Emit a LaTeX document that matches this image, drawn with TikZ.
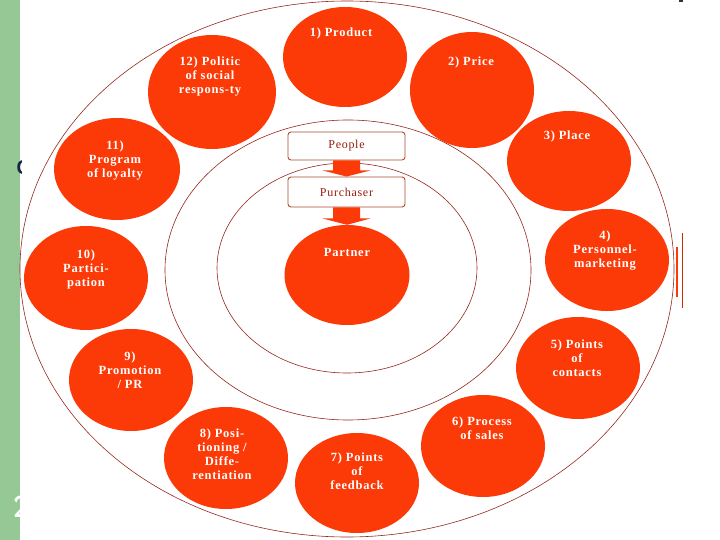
\documentclass[tikz,border=0pt]{standalone}
\usepackage{fontspec}
\setmainfont{Liberation Serif}
\newfontfamily\cfont[LetterSpace=6]{Liberation Serif}
\usetikzlibrary{shapes.geometric,calc}
\definecolor{ored}{RGB}{252,58,8}
\definecolor{ring}{RGB}{150,40,30}
\definecolor{boxline}{RGB}{175,75,45}
\definecolor{boxtext}{RGB}{150,30,15}
\definecolor{strip}{RGB}{150,200,150}
\definecolor{navy}{RGB}{20,40,70}
\begin{document}
\begin{tikzpicture}[x=1pt,y=-1pt,
  disc/.style={ellipse, fill=ored, inner sep=0pt},
  lbl/.style={text=white, font=\cfont\bfseries\fontsize{12.5}{14}\selectfont, align=center, inner sep=0pt},
  ringline/.style={draw=ring, line width=0.6pt},
  stagebox/.style={draw=boxline, line width=0.9pt, rounded corners=3pt, minimum width=117pt, inner sep=0pt, text=boxtext, font=\cfont\fontsize{12}{14}\selectfont},
  blockarrow/.style={fill=ored}]
\useasboundingbox (0,0) rectangle (720,540);
% background slide remnants
\fill[strip] (0,0) rectangle (20,540);
\node[font=\sffamily\bfseries\fontsize{20}{20}\selectfont, text=navy, anchor=west, inner sep=0pt] (glyphC) at (16,168) {C};
\node[font=\sffamily\bfseries\fontsize{30}{30}\selectfont, text=white, anchor=west, inner sep=0pt] (glyphTwo) at (13,507) {2};
\fill[white] (22,0) rectangle (720,540);
\fill[black!80] (679,0) rectangle (683,2);
\draw[ored, line width=1.2pt] (677,247) -- (677,297);
\draw[ored!80!black, line width=0.6pt] (682,233) -- (682,308);
% rings
\draw[ringline] (347,269) ellipse [x radius=327, y radius=268];
\draw[ringline] (348,270) ellipse [x radius=183, y radius=150];
\draw[ringline] (347,268) ellipse [x radius=130, y radius=105];
% discs
\node[disc, minimum width=124pt, minimum height=100pt] (c1) at (345,57) {};
\node[disc, minimum width=124pt, minimum height=116pt] (c2) at (472,90) {};
\node[disc, minimum width=124pt, minimum height=100pt] (c3) at (569,161) {};
\node[disc, minimum width=124pt, minimum height=102pt] (c4) at (607,260) {};
\node[disc, minimum width=124pt, minimum height=102pt] (c5) at (578,368) {};
\node[disc, minimum width=124pt, minimum height=102pt] (c6) at (483,446) {};
\node[disc, minimum width=124pt, minimum height=100pt] (c7) at (357,483) {};
\node[disc, minimum width=124pt, minimum height=102pt] (c8) at (226,458) {};
\node[disc, minimum width=124pt, minimum height=102pt] (c9) at (131,380) {};
\node[disc, minimum width=124pt, minimum height=104pt] (c10) at (86,278) {};
\node[disc, minimum width=126pt, minimum height=102pt] (c11) at (117,169) {};
\node[disc, minimum width=128pt, minimum height=114pt] (c12) at (212,92) {};
\node[disc, minimum width=125pt, minimum height=100pt] (partner) at (347,275) {};
% labels
\node[lbl] (t1) at (341,33) {1) Product};
\node[lbl] (t2) at (471,62) {2) Price};
\node[lbl] (t3) at (567,136) {3) Place};
\node[lbl] (t4) at (605,251) {4)\\Personnel-\\marketing};
\node[lbl] (t5) at (577,358) {5) Points\\of\\contacts};
\node[lbl] (t6) at (482,428) {6) Process\\of sales};
\node[lbl] (t7) at (357,471) {7) Points\\of\\feedback};
\node[lbl] (t8) at (222,454) {8) Posi-\\tioning /\\Diffe-\\rentiation};
\node[lbl] (t9) at (130,370) {9)\\Promotion\\/ PR};
\node[lbl] (t10) at (86,269) {10)\\Partici-\\pation};
\node[lbl] (t11) at (115,161) {11)\\Program\\of loyalty};
\node[lbl] (t12) at (210,77) {12) Politic\\of social\\respons-ty};
\node[lbl] (tpartner) at (347,252) {Partner};
% boxes
\node[stagebox, minimum height=28pt] (people) at (346.5,146) {People};
\node[stagebox, minimum height=30pt] (purch) at (346.5,192) {Purchaser};
% block arrows
\fill[blockarrow] ($(people.south)+(-13.5,0)$) -- ($(people.south)+(13.5,0)$) -- ($(people.south)+(13.5,10)$) -- ($(people.south)+(24,10)$) -- (purch.north) -- ($(people.south)+(-24,10)$) -- ($(people.south)+(-13.5,10)$) -- cycle;
\fill[blockarrow] ($(purch.south)+(-13.5,0)$) -- ($(purch.south)+(13.5,0)$) -- ($(purch.south)+(13.5,11)$) -- ($(purch.south)+(24,11)$) -- (partner.north) -- ($(purch.south)+(-24,11)$) -- ($(purch.south)+(-13.5,11)$) -- cycle;
\end{tikzpicture}
\end{document}
